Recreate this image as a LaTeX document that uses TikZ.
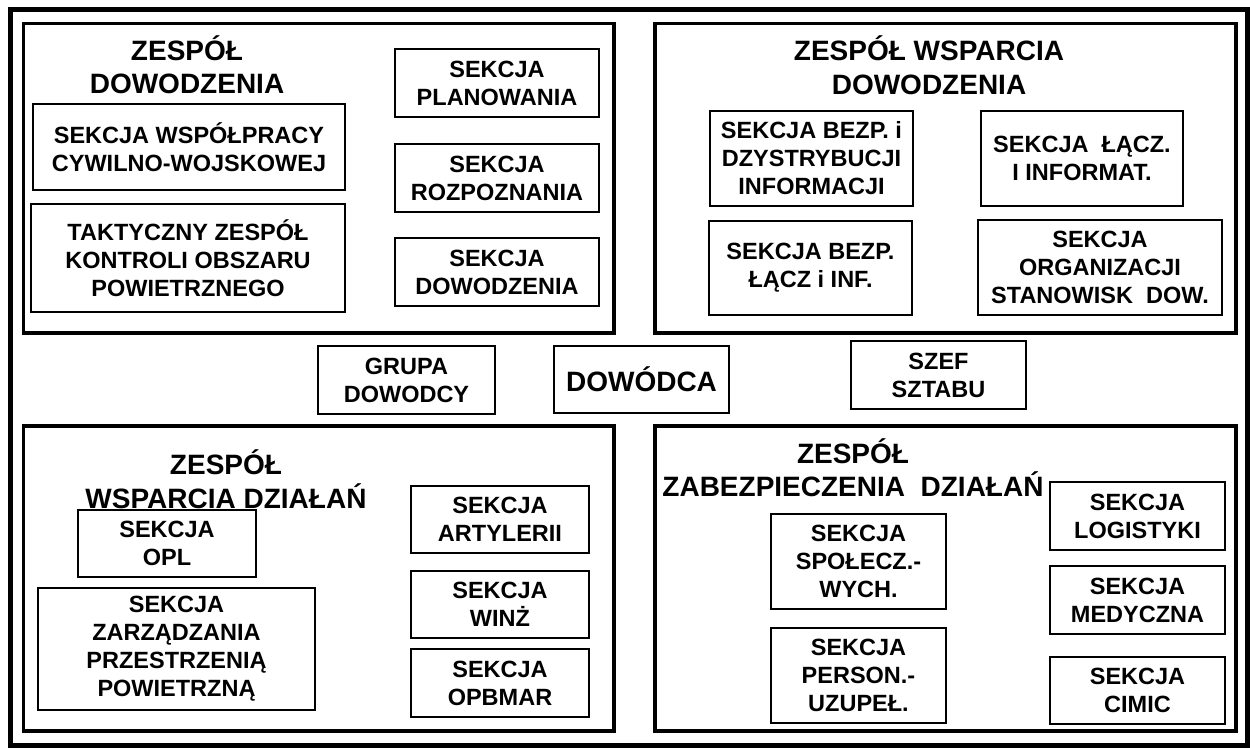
\documentclass[tikz,border=0pt]{standalone}
\usepackage{fontspec}
\newfontfamily\arialb{Liberation Sans}[BoldFont={Liberation Sans Bold}]
\tikzset{
  sec/.style={draw, line width=2.2pt, inner sep=0pt, align=center,
    font=\arialb\bfseries\fontsize{23.5}{28}\selectfont},
  grp/.style={draw, line width=3.4pt, inner sep=0pt},
  ttl/.style={inner sep=0pt, align=center,
    font=\arialb\bfseries\fontsize{28}{33.5}\selectfont},
  frame/.style={draw, line width=5pt, inner sep=0pt}
}
\begin{document}
\begin{tikzpicture}[x=1pt,y=-1pt]
\useasboundingbox (0,0) rectangle (1250,748);
\fill[white] (0,0) rectangle (1250,748);
% outer frame
\node[frame, minimum width=1236.5pt, minimum height=735.5pt] (outer) at (628.75,377.25) {};
% group boxes
\node[grp, minimum width=590.5pt, minimum height=309.5pt] (gTL) at (318.75,178.25) {};
\node[grp, minimum width=581pt, minimum height=309.5pt] (gTR) at (945.5,178.25) {};
\node[grp, minimum width=590.5pt, minimum height=305pt] (gBL) at (318.75,578.5) {};
\node[grp, minimum width=581pt, minimum height=305pt] (gBR) at (945.5,578.5) {};
% titles
\node[ttl] (tTL) at (187,64.5) {ZESPÓŁ\\DOWODZENIA};
\node[ttl] (tTR) at (929,65) {ZESPÓŁ WSPARCIA\\DOWODZENIA};
\node[ttl] (tBL) at (226,479) {ZESPÓŁ\\WSPARCIA DZIAŁAŃ};
\node[ttl] (tBR) at (853,467.5) {ZESPÓŁ\\ZABEZPIECZENIA~ DZIAŁAŃ};
% top-left sections
\node[sec, minimum width=204pt, minimum height=68pt] (plan) at (497,83) {SEKCJA\\PLANOWANIA};
\node[sec, minimum width=204pt, minimum height=68pt] (rozp) at (497,178) {SEKCJA\\ROZPOZNANIA};
\node[sec, minimum width=204pt, minimum height=68pt] (dsek) at (497,272) {SEKCJA\\DOWODZENIA};
\node[sec, minimum width=312pt, minimum height=86pt] (wspol) at (189,147) {SEKCJA WSPÓŁPRACY\\CYWILNO-WOJSKOWEJ};
\node[sec, minimum width=314pt, minimum height=108pt] (takt) at (188,258) {TAKTYCZNY ZESPÓŁ\\KONTROLI OBSZARU\\POWIETRZNEGO};
% top-right sections
\node[sec, minimum width=203pt, minimum height=95pt] (bezpinf) at (811.5,158.5) {SEKCJA BEZP. i\\DZYSTRYBUCJI\\INFORMACJI};
\node[sec, minimum width=202pt, minimum height=95pt] (lacz) at (1082,158.5) {SEKCJA~ ŁĄCZ.\\I INFORMAT.};
\node[sec, minimum width=203pt, minimum height=94pt] (bezplacz) at (810.5,268) {SEKCJA BEZP.\\ŁĄCZ i INF.};
\node[sec, minimum width=244pt, minimum height=95pt] (org) at (1100,267.5) {SEKCJA\\ORGANIZACJI\\STANOWISK~ DOW.};
% centre
\node[sec, minimum width=177pt, minimum height=68pt] (grupa) at (406.5,380) {GRUPA\\DOWODCY};
\node[sec, minimum width=175pt, minimum height=67pt, font=\arialb\bfseries\fontsize{28}{33}\selectfont] (dowodca) at (641.5,379.5) {DOWÓDCA};
\node[sec, minimum width=175pt, minimum height=68pt] (szef) at (938.5,375) {SZEF\\SZTABU};
% bottom-left sections
\node[sec, minimum width=178pt, minimum height=67pt] (opl) at (167,543.5) {SEKCJA\\OPL};
\node[sec, minimum width=277pt, minimum height=122pt] (zarz) at (176.5,649) {SEKCJA\\ZARZĄDZANIA\\PRZESTRZENIĄ\\POWIETRZNĄ};
\node[sec, minimum width=178pt, minimum height=67pt] (art) at (500,519.5) {SEKCJA\\ARTYLERII};
\node[sec, minimum width=178pt, minimum height=67pt] (winz) at (500,604.5) {SEKCJA\\WINŻ};
\node[sec, minimum width=178pt, minimum height=68pt] (opbmar) at (500,683) {SEKCJA\\OPBMAR};
% bottom-right sections
\node[sec, minimum width=175pt, minimum height=95pt] (spol) at (858.5,561.5) {SEKCJA\\SPOŁECZ.-\\WYCH.};
\node[sec, minimum width=175pt, minimum height=95pt] (pers) at (858.5,675.5) {SEKCJA\\PERSON.-\\UZUPEŁ.};
\node[sec, minimum width=175pt, minimum height=68pt] (logi) at (1137.5,516) {SEKCJA\\LOGISTYKI};
\node[sec, minimum width=175pt, minimum height=68pt] (med) at (1137.5,600) {SEKCJA\\MEDYCZNA};
\node[sec, minimum width=175pt, minimum height=67pt] (cimic) at (1137.5,690.5) {SEKCJA\\CIMIC};
\end{tikzpicture}
\end{document}
